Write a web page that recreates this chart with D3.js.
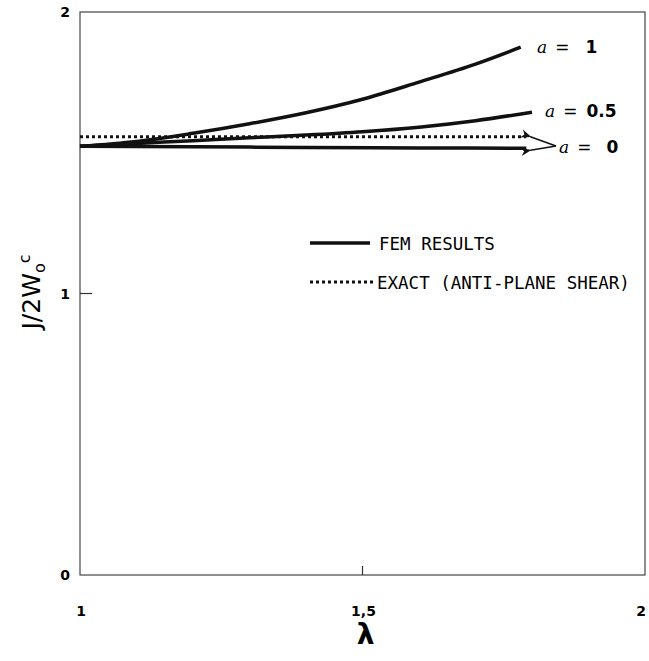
<!DOCTYPE html>
<html>
<head>
<meta charset="utf-8">
<script src="https://cdn.jsdelivr.net/npm/d3@7"></script>
<style>
  html, body { margin: 0; padding: 0; background: #fff; }
  svg { display: block; }
</style>
</head>
<body>
<div id="chart"></div>
<script>
// 데이터: J/2W0c vs lambda
const lambdaA1 = [1.0, 1.1, 1.2, 1.3, 1.4, 1.5, 1.6, 1.7, 1.78];
const femA1 = [1.523, 1.540, 1.569, 1.603, 1.642, 1.690, 1.751, 1.815, 1.875];

const lambdaA05 = [1.0, 1.1, 1.2, 1.3, 1.4, 1.5, 1.6, 1.7, 1.8];
const femA05 = [1.523, 1.533, 1.543, 1.553, 1.563, 1.575, 1.591, 1.614, 1.644];

const lambdaA0 = [1.0, 1.2, 1.4, 1.6, 1.79];
const femA0 = [1.523, 1.521, 1.519, 1.517, 1.516];

const lambdaExact = [1.0, 1.79];
const exactVals = [1.557, 1.557];

const xTicks = [1, 1.5, 2];
const xTickLabels = ['1', '1,5', '2'];
const yTicks = [0, 1, 2];
const yTickLabels = ['0', '1', '2'];

const W = 649, H = 661;
const svg = d3.select('#chart').append('svg').attr('width', W).attr('height', H);

const x = d3.scaleLinear().domain([1, 2]).range([80, 645]);
const y = d3.scaleLinear().domain([0, 2]).range([575, 12]);

// 프레임 (상자)
svg.append('rect')
  .attr('x', x(1)).attr('y', y(2))
  .attr('width', x(2) - x(1)).attr('height', y(0) - y(2))
  .attr('fill', 'none').attr('stroke', '#444').attr('stroke-width', 1.2);

// 안쪽 눈금
svg.append('line')
  .attr('x1', x(1)).attr('x2', x(1) + 12)
  .attr('y1', y(1)).attr('y2', y(1))
  .attr('stroke', '#333').attr('stroke-width', 1.2);
svg.append('line')
  .attr('x1', x(1.5)).attr('x2', x(1.5))
  .attr('y1', y(0)).attr('y2', y(0) - 9)
  .attr('stroke', '#333').attr('stroke-width', 1.2);

// 눈금 라벨
const tickFont = '"DejaVu Sans", sans-serif';
svg.selectAll('text.ytick').data(yTicks).enter().append('text')
  .attr('class', 'ytick')
  .attr('x', 65)
  .attr('y', d => y(d) + 5)
  .attr('text-anchor', 'middle')
  .attr('font-family', tickFont).attr('font-weight', 'bold').attr('font-size', 14)
  .text((d, i) => yTickLabels[i]);

svg.selectAll('text.xtick').data(xTicks).enter().append('text')
  .attr('class', 'xtick')
  .attr('x', d => x(d) + (d === 2 ? -4 : 1))
  .attr('y', 616)
  .attr('text-anchor', 'middle')
  .attr('font-family', tickFont).attr('font-weight', 'bold').attr('font-size', 14)
  .text((d, i) => xTickLabels[i]);

// 축 제목
svg.append('text')
  .attr('x', x(1.5) + 3).attr('y', 644)
  .attr('text-anchor', 'middle')
  .attr('font-family', tickFont).attr('font-weight', 'bold').attr('font-size', 28)
  .text('λ');

const yl = svg.append('text')
  .attr('transform', 'translate(40,292) rotate(-90)')
  .attr('text-anchor', 'middle')
  .attr('font-family', tickFont).attr('font-size', 25);
yl.append('tspan').text('J/2W');
yl.append('tspan').attr('font-size', 16).attr('dy', 5).text('o');
yl.append('tspan').attr('font-size', 16).attr('dy', -15).text('c');

// 곡선
const line = d3.line()
  .x(d => x(d[0])).y(d => y(d[1]))
  .curve(d3.curveMonotoneX);

const fem = [
  [lambdaA1, femA1],
  [lambdaA05, femA05],
  [lambdaA0, femA0]
];
fem.forEach(([lx, ly]) => {
  svg.append('path')
    .datum(lx.map((v, i) => [v, ly[i]]))
    .attr('d', line)
    .attr('fill', 'none').attr('stroke', '#111').attr('stroke-width', 3.5);
});

svg.append('path')
  .datum(lambdaExact.map((v, i) => [v, exactVals[i]]))
  .attr('d', line)
  .attr('fill', 'none').attr('stroke', '#111')
  .attr('stroke-width', 3).attr('stroke-dasharray', '3,3');

// 곡선 라벨 (a = 값)
function alphaLabel(px, py, val, gap) {
  const t = svg.append('text').attr('x', px).attr('y', py)
    .attr('font-family', '"DejaVu Sans", sans-serif').attr('font-size', 17);
  t.append('tspan').attr('font-style', 'italic').attr('font-family', '"DejaVu Serif", serif').text('a');
  t.append('tspan').attr('dx', 8).text('=');
  t.append('tspan').attr('dx', gap).attr('font-weight', 'bold').text(val);
}
alphaLabel(537, 53, '1', 16);
alphaLabel(545, 117, '0.5', 9);
alphaLabel(559, 153, '0', 15);

// a=0 화살표
const defs = svg.append('defs');
defs.append('marker')
  .attr('id', 'arr').attr('viewBox', '0 0 10 10')
  .attr('refX', 1).attr('refY', 5)
  .attr('markerWidth', 7).attr('markerHeight', 7)
  .attr('orient', 'auto-start-reverse')
  .append('path').attr('d', 'M0,5 L10,1 L7,5 L10,9 Z').attr('fill', '#111');

const vx = 556, vy = 146;
[[x(1.79) + 4, y(exactVals[1])], [x(1.79) + 4, y(fem[2][1][4]) + 2]].forEach(p => {
  svg.append('line')
    .attr('x1', p[0]).attr('y1', p[1]).attr('x2', vx).attr('y2', vy)
    .attr('stroke', '#111').attr('stroke-width', 1.5)
    .attr('marker-start', 'url(#arr)');
});

// 범례
const legFont = '"DejaVu Sans Mono", monospace';
svg.append('line')
  .attr('x1', 310).attr('x2', 370).attr('y1', 243).attr('y2', 243)
  .attr('stroke', '#111').attr('stroke-width', 3.5);
svg.append('text').attr('x', 379).attr('y', 250)
  .attr('font-family', legFont).attr('font-size', 17.5)
  .text('FEM RESULTS');
svg.append('line')
  .attr('x1', 310).attr('x2', 374).attr('y1', 282).attr('y2', 282)
  .attr('stroke', '#111').attr('stroke-width', 3).attr('stroke-dasharray', '3,3');
svg.append('text').attr('x', 377).attr('y', 289)
  .attr('font-family', legFont).attr('font-size', 17.5)
  .text('EXACT (ANTI-PLANE SHEAR)');
</script>
</body>
</html>
